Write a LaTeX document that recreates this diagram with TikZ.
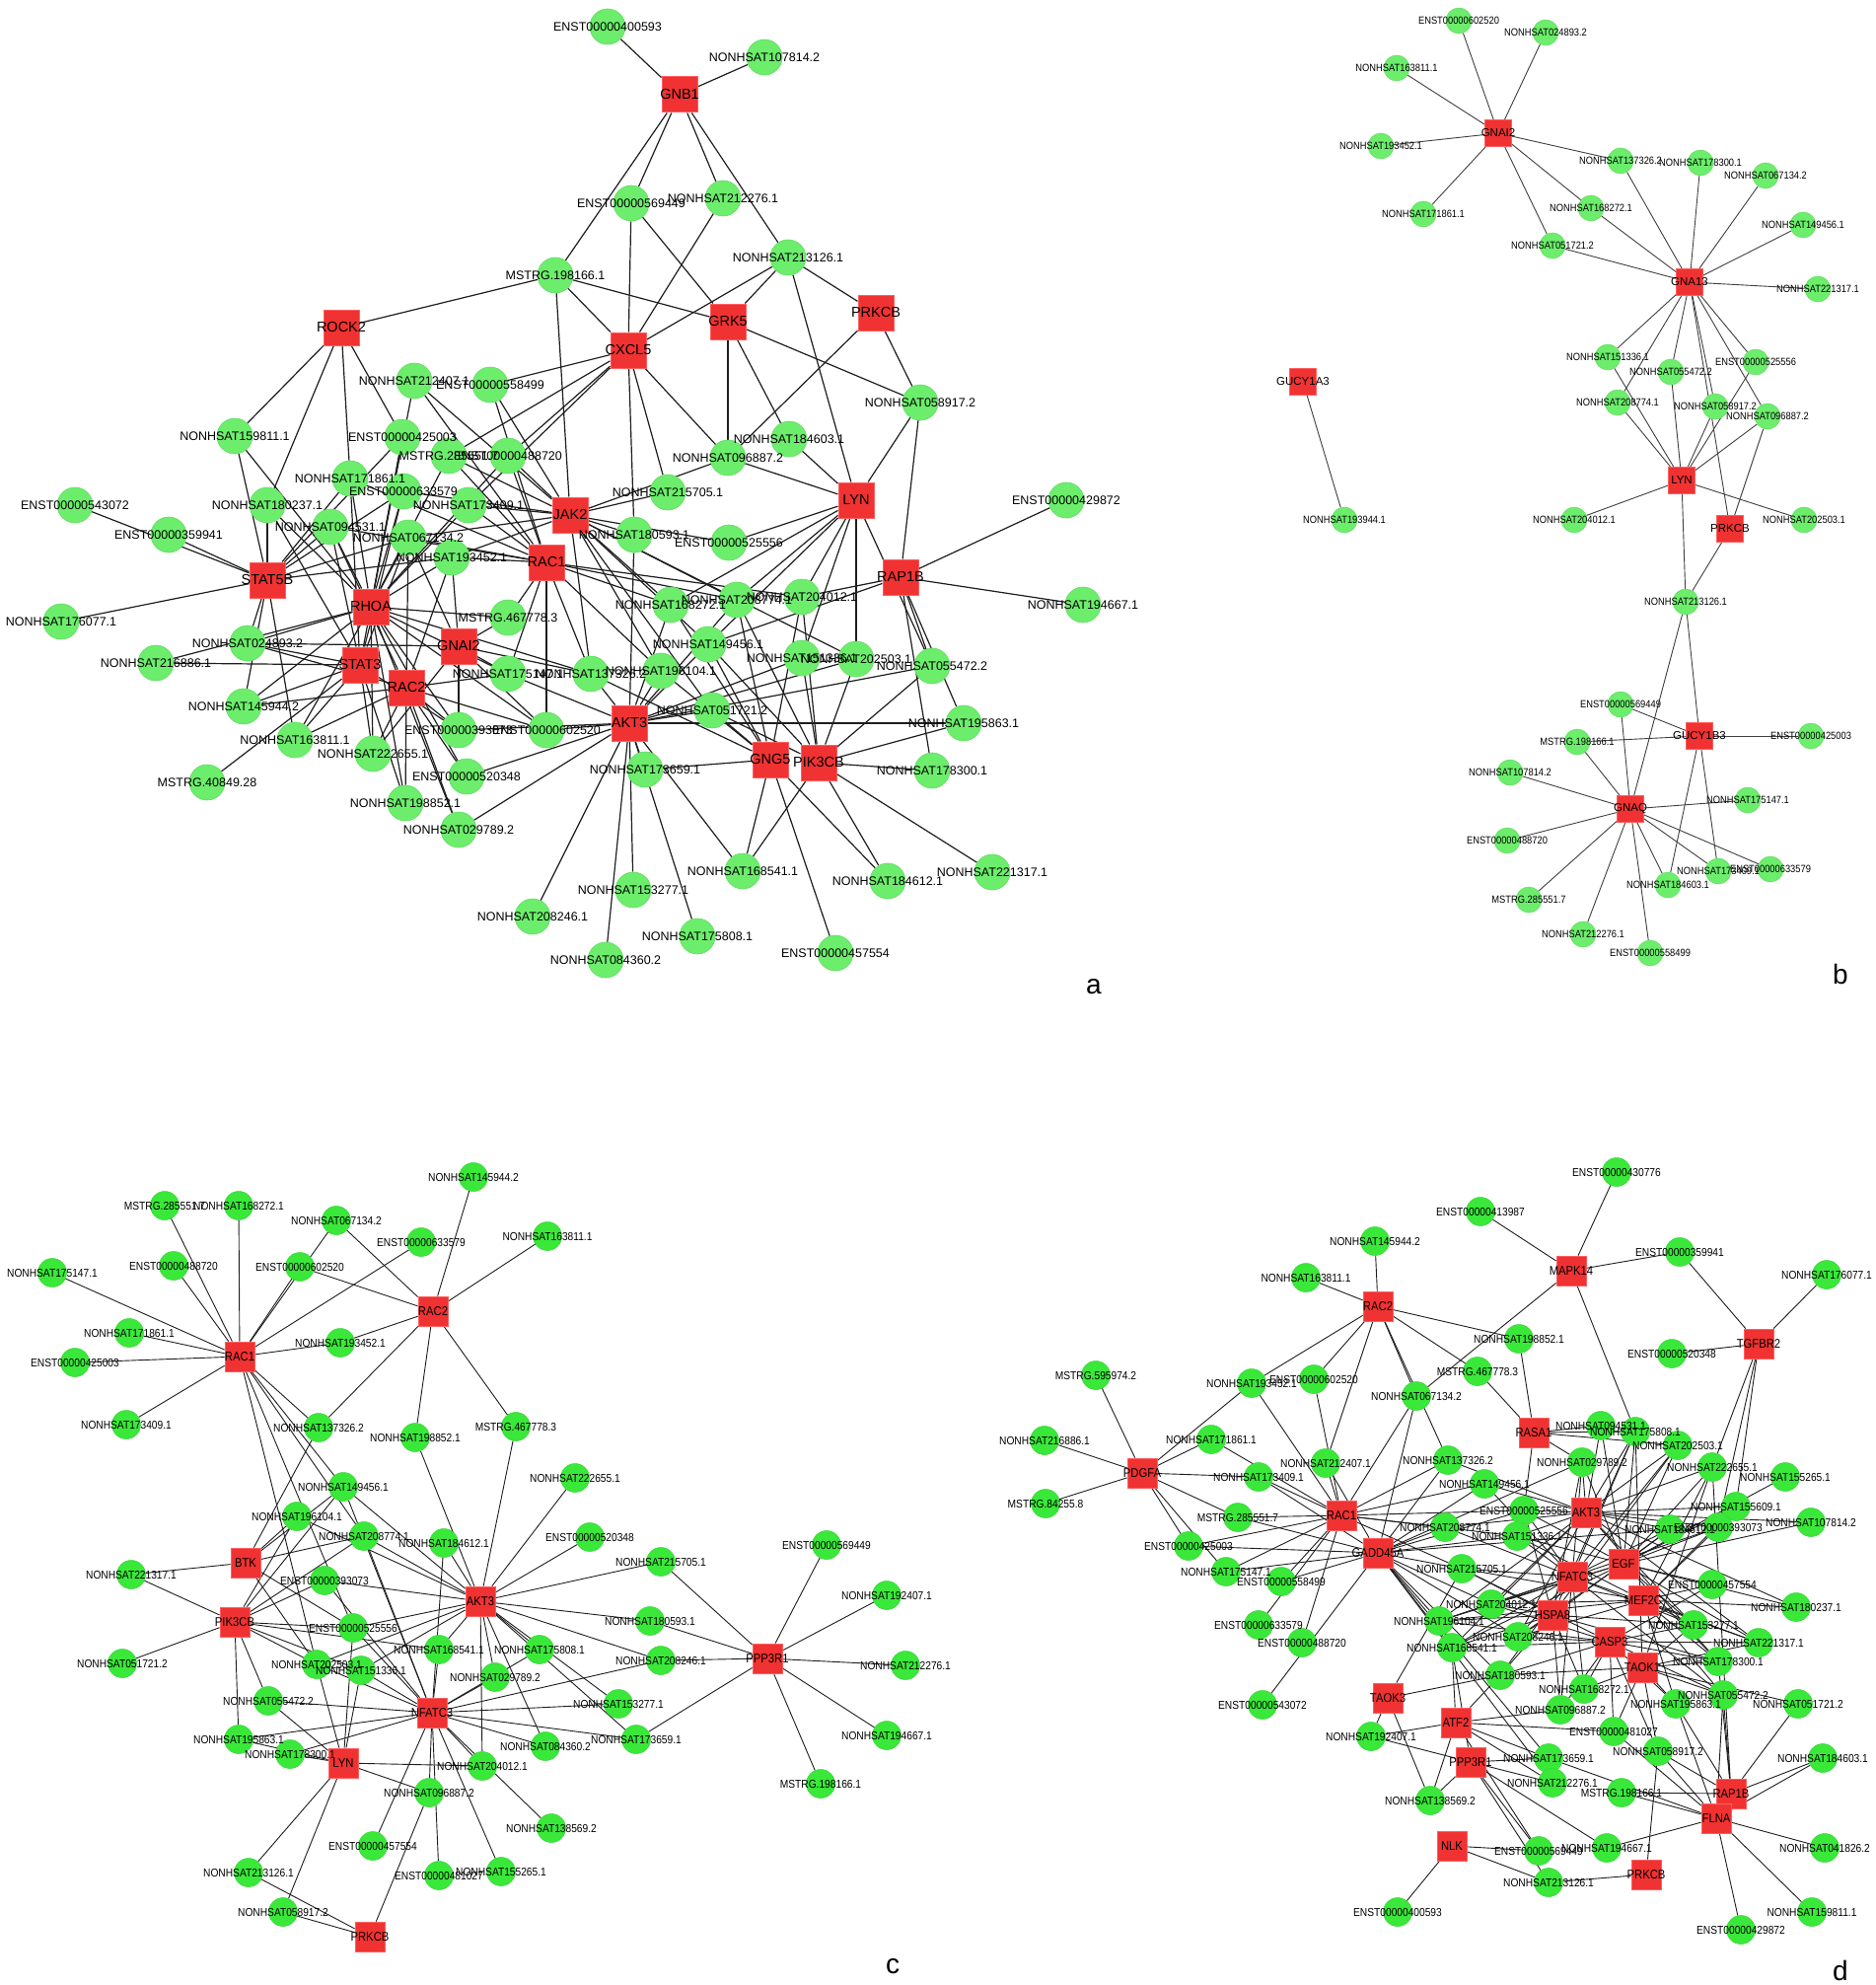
\documentclass[tikz,border=0pt]{standalone}
\usepackage{fontspec}
\setmainfont{Liberation Sans}
\newfontfamily\narrowsf[FakeStretch=0.88]{Liberation Sans}
\usepackage{xcolor}
\definecolor{lncpale}{RGB}{108,238,108}
\definecolor{lncvivid}{RGB}{58,232,58}
\definecolor{genered}{RGB}{240,50,50}
\definecolor{generim}{RGB}{255,95,95}
\definecolor{wire}{RGB}{30,30,30}
\usepackage{tikz}
\pgfdeclarelayer{background}
\pgfsetlayers{background,main}

% shape node (named) now, its centred label queued for the end
\makeatletter
\newcommand{\labelqueue}{}
\newcommand{\nw}[4]{\node[#1] (#2) at (#3) {};%
  \g@addto@macro\labelqueue{\node[#1 text] (#2t) at (#2.center) {#4};}}
\makeatother

\begin{document}
\begin{tikzpicture}[
  x=1pt, y=-1pt,
  lncA/.style={circle, fill=lncpale, draw=lncpale!92!black, line width=0.6pt, minimum size=36pt, inner sep=0pt},
  geneA/.style={rectangle, fill=genered, draw=generim, line width=1pt, minimum size=36pt, inner sep=0pt},
  lncA text/.style={font=\fontsize{12.5}{13}\selectfont, inner sep=0pt},
  geneA text/.style={font=\fontsize{14.5}{15}\selectfont, inner sep=0pt},
  lncB/.style={circle, fill=lncpale, draw=lncpale!92!black, line width=0.5pt, minimum size=26pt, inner sep=0pt},
  geneB/.style={rectangle, fill=genered, draw=generim, line width=0.8pt, minimum size=27pt, inner sep=0pt},
  lncB text/.style={font=\narrowsf\fontsize{10.6}{11}\selectfont, inner sep=0pt},
  geneB text/.style={font=\fontsize{11.5}{12}\selectfont, inner sep=0pt},
  lncC/.style={circle, fill=lncvivid, draw=lncvivid!92!black, line width=0.5pt, minimum size=29pt, inner sep=0pt},
  geneC/.style={rectangle, fill=genered, draw=generim, line width=0.8pt, minimum size=30pt, inner sep=0pt},
  lncC text/.style={font=\narrowsf\fontsize{11.6}{12}\selectfont, inner sep=0pt},
  geneC text/.style={font=\narrowsf\fontsize{12.8}{13}\selectfont, inner sep=0pt},
  edgeA/.style={draw=wire, line width=1.2pt},
  edgeB/.style={draw=wire!85, line width=0.9pt},
  edgeC/.style={draw=wire, line width=0.9pt},
  panel/.style={font=\fontsize{28}{30}\selectfont, inner sep=0pt}
]
\useasboundingbox (0,0) rectangle (1902,2012);
\begin{pgfonlayer}{background}
\fill[white] (0,0) rectangle (1902,2012);
\end{pgfonlayer}

% ---------------- panel a ----------------
\nw{geneA}{aGNB1}{689,96}{GNB1}
\nw{lncA}{aE400593}{616,27}{ENST00000400593}
\nw{lncA}{aN107814}{775,58}{NONHSAT107814.2}
\nw{lncA}{aE569449}{640,206}{ENST00000569449}
\nw{lncA}{aN212276}{733,201}{NONHSAT212276.1}
\nw{lncA}{aN213126}{799,261}{NONHSAT213126.1}
\nw{lncA}{aM198166}{563,279}{MSTRG.198166.1}
\nw{geneA}{aGRK5}{738,326}{GRK5}
\nw{geneA}{aPRKCB}{888,317}{PRKCB}
\nw{geneA}{aCXCL5}{637,355}{CXCL5}
\nw{geneA}{aROCK2}{346,332}{ROCK2}
\nw{lncA}{aN212407}{420,386}{NONHSAT212407.1}
\nw{lncA}{aE558499}{497,390}{ENST00000558499}
\nw{lncA}{aN058917}{933,408}{NONHSAT058917.2}
\nw{lncA}{aN159811}{238,442}{NONHSAT159811.1}
\nw{lncA}{aE425003}{408,443}{ENST00000425003}
\nw{lncA}{aN184603}{800,445}{NONHSAT184603.1}
\nw{lncA}{aM285551}{455,462}{MSTRG.285551.7}
\nw{lncA}{aE488720}{515,462}{ENST00000488720}
\nw{lncA}{aN096887}{738,464}{NONHSAT096887.2}
\nw{lncA}{aN171861}{355,485}{NONHSAT171861.1}
\nw{lncA}{aE633579}{409,498}{ENST00000633579}
\nw{lncA}{aN215705}{677,499}{NONHSAT215705.1}
\nw{geneA}{aLYN}{868,507}{LYN}
\nw{lncA}{aE429872}{1081,507}{ENST00000429872}
\nw{lncA}{aE543072}{76,512}{ENST00000543072}
\nw{lncA}{aN180237}{271,512}{NONHSAT180237.1}
\nw{lncA}{aN173409}{475,512}{NONHSAT173409.1}
\nw{geneA}{aJAK2}{578,522}{JAK2}
\nw{lncA}{aN094531}{335,534}{NONHSAT094531.1}
\nw{lncA}{aE359941}{171,542}{ENST00000359941}
\nw{lncA}{aN180593}{643,542}{NONHSAT180593.1}
\nw{lncA}{aN067134}{414,545}{NONHSAT067134.2}
\nw{lncA}{aE525556}{739,550}{ENST00000525556}
\nw{lncA}{aN193452}{458,565}{NONHSAT193452.1}
\nw{geneA}{aRAC1}{554,570}{RAC1}
\nw{geneA}{aRAP1B}{913,585}{RAP1B}
\nw{geneA}{aSTAT5B}{271,588}{STAT5B}
\nw{lncA}{aN204012}{813,605}{NONHSAT204012.1}
\nw{lncA}{aN208774}{747,608}{NONHSAT208774.1}
\nw{lncA}{aN168272}{680,613}{NONHSAT168272.1}
\nw{lncA}{aN194667}{1098,613}{NONHSAT194667.1}
\nw{geneA}{aRHOA}{376,615}{RHOA}
\nw{lncA}{aM467778}{515,626}{MSTRG.467778.3}
\nw{lncA}{aN176077}{62,630}{NONHSAT176077.1}
\nw{lncA}{aN024893}{251,652}{NONHSAT024893.2}
\nw{lncA}{aN149456}{718,653}{NONHSAT149456.1}
\nw{geneA}{aGNAI2}{465,655}{GNAI2}
\nw{lncA}{aN151336}{813,667}{NONHSAT151336.1}
\nw{lncA}{aN202503}{868,668}{NONHSAT202503.1}
\nw{lncA}{aN216886}{158,672}{NONHSAT216886.1}
\nw{geneA}{aSTAT3}{365,674}{STAT3}
\nw{lncA}{aN055472}{945,675}{NONHSAT055472.2}
\nw{lncA}{aN196104}{670,680}{NONHSAT196104.1}
\nw{lncA}{aN175147}{515,683}{NONHSAT175147.1}
\nw{lncA}{aN137326}{599,683}{NONHSAT137326.2}
\nw{geneA}{aRAC2}{412,697}{RAC2}
\nw{lncA}{aN145944}{247,716}{NONHSAT145944.2}
\nw{lncA}{aN051721}{722,720}{NONHSAT051721.2}
\nw{geneA}{aAKT3}{638,733}{AKT3}
\nw{lncA}{aN195863}{977,733}{NONHSAT195863.1}
\nw{lncA}{aE393073}{465,740}{ENST00000393073}
\nw{lncA}{aE602520}{554,740}{ENST00000602520}
\nw{lncA}{aN163811}{299,750}{NONHSAT163811.1}
\nw{lncA}{aN222655}{378,764}{NONHSAT222655.1}
\nw{geneA}{aGNG5}{781,770}{GNG5}
\nw{geneA}{aPIK3CB}{830,773}{PIK3CB}
\nw{lncA}{aN173659}{654,780}{NONHSAT173659.1}
\nw{lncA}{aN178300}{945,781}{NONHSAT178300.1}
\nw{lncA}{aE520348}{473,787}{ENST00000520348}
\nw{lncA}{aM40849}{210,793}{MSTRG.40849.28}
\nw{lncA}{aN198852}{411,814}{NONHSAT198852.1}
\nw{lncA}{aN029789}{465,841}{NONHSAT029789.2}
\nw{lncA}{aN168541}{753,883}{NONHSAT168541.1}
\nw{lncA}{aN221317}{1006,884}{NONHSAT221317.1}
\nw{lncA}{aN184612}{900,893}{NONHSAT184612.1}
\nw{lncA}{aN153277}{642,902}{NONHSAT153277.1}
\nw{lncA}{aN208246}{540,929}{NONHSAT208246.1}
\nw{lncA}{aN175808}{707,949}{NONHSAT175808.1}
\nw{lncA}{aE457554}{847,966}{ENST00000457554}
\nw{lncA}{aN084360}{614,973}{NONHSAT084360.2}
\node[panel] (labA) at (1109,1000) {a};

% ---------------- panel b ----------------
\nw{lncB}{bE602520}{1479,21}{ENST00000602520}
\nw{lncB}{bN024893}{1567,33}{NONHSAT024893.2}
\nw{lncB}{bN163811}{1416,69}{NONHSAT163811.1}
\nw{geneB}{bGNAI2}{1519,135}{GNAI2}
\nw{lncB}{bN193452}{1400,148}{NONHSAT193452.1}
\nw{lncB}{bN171861}{1443,217}{NONHSAT171861.1}
\nw{lncB}{bN137326}{1643,163}{NONHSAT137326.2}
\nw{lncB}{bN178300}{1724,165}{NONHSAT178300.1}
\nw{lncB}{bN067134}{1790,178}{NONHSAT067134.2}
\nw{lncB}{bN168272}{1613,211}{NONHSAT168272.1}
\nw{lncB}{bN149456}{1828,228}{NONHSAT149456.1}
\nw{lncB}{bN051721}{1574,249}{NONHSAT051721.2}
\nw{geneB}{bGNA13}{1713,286}{GNA13}
\nw{lncB}{bN221317}{1843,293}{NONHSAT221317.1}
\nw{geneB}{bGUCY1A3}{1321,387}{GUCY1A3}
\nw{lncB}{bN151336}{1630,362}{NONHSAT151336.1}
\nw{lncB}{bE525556}{1780,367}{ENST00000525556}
\nw{lncB}{bN055472}{1694,377}{NONHSAT055472.2}
\nw{lncB}{bN208774}{1640,408}{NONHSAT208774.1}
\nw{lncB}{bN058917}{1739,412}{NONHSAT058917.2}
\nw{lncB}{bN096887}{1792,422}{NONHSAT096887.2}
\nw{geneB}{bLYN}{1705,487}{LYN}
\nw{lncB}{bN193944}{1363,527}{NONHSAT193944.1}
\nw{lncB}{bN204012}{1596,527}{NONHSAT204012.1}
\nw{geneB}{bPRKCB}{1754,536}{PRKCB}
\nw{lncB}{bN202503}{1829,527}{NONHSAT202503.1}
\nw{lncB}{bN213126}{1709,610}{NONHSAT213126.1}
\nw{lncB}{bE569449}{1643,714}{ENST00000569449}
\nw{geneB}{bGUCY1B3}{1723,746}{GUCY1B3}
\nw{lncB}{bE425003}{1836,746}{ENST00000425003}
\nw{lncB}{bM198166}{1599,752}{MSTRG.198166.1}
\nw{lncB}{bN107814}{1531,783}{NONHSAT107814.2}
\nw{geneB}{bGNAQ}{1653,820}{GNAQ}
\nw{lncB}{bN175147}{1772,811}{NONHSAT175147.1}
\nw{lncB}{bE488720}{1528,852}{ENST00000488720}
\nw{lncB}{bN173409}{1742,883}{NONHSAT173409.1}
\nw{lncB}{bE633579}{1795,881}{ENST00000633579}
\nw{lncB}{bN184603}{1691,897}{NONHSAT184603.1}
\nw{lncB}{bM285551}{1550,912}{MSTRG.285551.7}
\nw{lncB}{bN212276}{1605,947}{NONHSAT212276.1}
\nw{lncB}{bE558499}{1673,966}{ENST00000558499}
\node[panel] (labB) at (1866,987) {b};

% ---------------- panel c ----------------
\nw{lncC}{cN145944}{480,1193}{NONHSAT145944.2}
\nw{lncC}{cM285551}{167,1222}{MSTRG.285551.7}
\nw{lncC}{cN168272}{242,1222}{NONHSAT168272.1}
\nw{lncC}{cN067134}{341,1237}{NONHSAT067134.2}
\nw{lncC}{cE633579}{427,1259}{ENST00000633579}
\nw{lncC}{cN163811}{555,1253}{NONHSAT163811.1}
\nw{lncC}{cN175147}{53,1290}{NONHSAT175147.1}
\nw{lncC}{cE488720}{176,1283}{ENST00000488720}
\nw{lncC}{cE602520}{304,1284}{ENST00000602520}
\nw{geneC}{cRAC2}{439,1329}{RAC2}
\nw{lncC}{cN171861}{131,1351}{NONHSAT171861.1}
\nw{geneC}{cRAC1}{243,1375}{RAC1}
\nw{lncC}{cN193452}{345,1361}{NONHSAT193452.1}
\nw{lncC}{cE425003}{76,1381}{ENST00000425003}
\nw{lncC}{cN173409}{128,1444}{NONHSAT173409.1}
\nw{lncC}{cN137326}{323,1447}{NONHSAT137326.2}
\nw{lncC}{cN198852}{421,1457}{NONHSAT198852.1}
\nw{lncC}{cM467778}{523,1446}{MSTRG.467778.3}
\nw{lncC}{cN222655}{583,1498}{NONHSAT222655.1}
\nw{lncC}{cN149456}{348,1507}{NONHSAT149456.1}
\nw{lncC}{cN196104}{301,1537}{NONHSAT196104.1}
\nw{lncC}{cN208774}{369,1557}{NONHSAT208774.1}
\nw{lncC}{cN184612}{450,1564}{NONHSAT184612.1}
\nw{lncC}{cE520348}{598,1558}{ENST00000520348}
\nw{lncC}{cE569449}{838,1566}{ENST00000569449}
\nw{lncC}{cN215705}{670,1583}{NONHSAT215705.1}
\nw{geneC}{cBTK}{249,1584}{BTK}
\nw{lncC}{cN221317}{133,1596}{NONHSAT221317.1}
\nw{lncC}{cE393073}{329,1602}{ENST00000393073}
\nw{lncC}{cN192407}{899,1617}{NONHSAT192407.1}
\nw{geneC}{cAKT3}{487,1623}{AKT3}
\nw{geneC}{cPIK3CB}{238,1644}{PIK3CB}
\nw{lncC}{cE525556}{358,1650}{ENST00000525556}
\nw{lncC}{cN180593}{659,1643}{NONHSAT180593.1}
\nw{lncC}{cN168541}{445,1672}{NONHSAT168541.1}
\nw{lncC}{cN175808}{547,1672}{NONHSAT175808.1}
\nw{lncC}{cN208246}{670,1683}{NONHSAT208246.1}
\nw{geneC}{cPPP3R1}{778,1681}{PPP3R1}
\nw{lncC}{cN212276}{918,1688}{NONHSAT212276.1}
\nw{lncC}{cN051721}{124,1686}{NONHSAT051721.2}
\nw{lncC}{cN202503}{321,1687}{NONHSAT202503.1}
\nw{lncC}{cN151336}{366,1693}{NONHSAT151336.1}
\nw{lncC}{cN029789}{502,1700}{NONHSAT029789.2}
\nw{lncC}{cN055472}{272,1724}{NONHSAT055472.2}
\nw{geneC}{cNFATC3}{438,1736}{NFATC3}
\nw{lncC}{cN153277}{627,1727}{NONHSAT153277.1}
\nw{lncC}{cN195863}{242,1763}{NONHSAT195863.1}
\nw{lncC}{cN173659}{645,1763}{NONHSAT173659.1}
\nw{lncC}{cN084360}{553,1770}{NONHSAT084360.2}
\nw{lncC}{cN194667}{899,1759}{NONHSAT194667.1}
\nw{lncC}{cN178300}{294,1778}{NONHSAT178300.1}
\nw{geneC}{cLYN}{348,1787}{LYN}
\nw{lncC}{cN204012}{489,1790}{NONHSAT204012.1}
\nw{lncC}{cM198166}{832,1808}{MSTRG.198166.1}
\nw{lncC}{cN096887}{435,1817}{NONHSAT096887.2}
\nw{lncC}{cN138569}{559,1853}{NONHSAT138569.2}
\nw{lncC}{cE457554}{378,1871}{ENST00000457554}
\nw{lncC}{cN213126}{252,1898}{NONHSAT213126.1}
\nw{lncC}{cE481027}{445,1901}{ENST00000481027}
\nw{lncC}{cN155265}{508,1897}{NONHSAT155265.1}
\nw{lncC}{cN058917}{287,1938}{NONHSAT058917.2}
\nw{geneC}{cPRKCB}{375,1963}{PRKCB}
\node[panel] (labC) at (905,1993) {c};

% ---------------- panel d ----------------
\nw{lncC}{dE430776}{1639,1188}{ENST00000430776}
\nw{lncC}{dE413987}{1501,1228}{ENST00000413987}
\nw{lncC}{dN145944}{1394,1258}{NONHSAT145944.2}
\nw{lncC}{dE359941}{1703,1269}{ENST00000359941}
\nw{geneC}{dMAPK14}{1593,1288}{MAPK14}
\nw{lncC}{dN163811}{1324,1295}{NONHSAT163811.1}
\nw{lncC}{dN176077}{1852,1292}{NONHSAT176077.1}
\nw{geneC}{dRAC2}{1397,1324}{RAC2}
\nw{lncC}{dN198852}{1540,1357}{NONHSAT198852.1}
\nw{geneC}{dTGFBR2}{1783,1362}{TGFBR2}
\nw{lncC}{dE520348}{1695,1372}{ENST00000520348}
\nw{lncC}{dM595974}{1111,1394}{MSTRG.595974.2}
\nw{lncC}{dM467778}{1498,1390}{MSTRG.467778.3}
\nw{lncC}{dN193452}{1269,1402}{NONHSAT193452.1}
\nw{lncC}{dE602520}{1332,1398}{ENST00000602520}
\nw{lncC}{dN067134}{1436,1415}{NONHSAT067134.2}
\nw{geneC}{dRASA1}{1555,1452}{RASA1}
\nw{lncC}{dN094531}{1623,1445}{NONHSAT094531.1}
\nw{lncC}{dN175808}{1658,1451}{NONHSAT175808.1}
\nw{lncC}{dN202503}{1701,1465}{NONHSAT202503.1}
\nw{lncC}{dN216886}{1059,1460}{NONHSAT216886.1}
\nw{lncC}{dN171861}{1228,1459}{NONHSAT171861.1}
\nw{geneC}{dPDGFA}{1158,1493}{PDGFA}
\nw{lncC}{dN212407}{1344,1483}{NONHSAT212407.1}
\nw{lncC}{dN137326}{1468,1480}{NONHSAT137326.2}
\nw{lncC}{dN029789}{1604,1482}{NONHSAT029789.2}
\nw{lncC}{dN222655}{1736,1487}{NONHSAT222655.1}
\nw{lncC}{dN155265}{1810,1497}{NONHSAT155265.1}
\nw{lncC}{dN173409}{1276,1497}{NONHSAT173409.1}
\nw{lncC}{dN149456}{1505,1504}{NONHSAT149456.1}
\nw{lncC}{dM84255}{1060,1524}{MSTRG.84255.8}
\nw{lncC}{dE525556}{1545,1531}{ENST00000525556}
\nw{geneC}{dAKT3}{1608,1533}{AKT3}
\nw{lncC}{dN155609}{1760,1527}{NONHSAT155609.1}
\nw{lncC}{dN107814}{1836,1543}{NONHSAT107814.2}
\nw{geneC}{dRAC1}{1360,1536}{RAC1}
\nw{lncC}{dM285551}{1255,1538}{MSTRG.285551.7}
\nw{lncC}{dN208774}{1465,1548}{NONHSAT208774.1}
\nw{lncC}{dN151336}{1538,1557}{NONHSAT151336.1}
\nw{lncC}{dN184612}{1693,1550}{NONHSAT184612.1}
\nw{lncC}{dE393073}{1742,1548}{ENST00000393073}
\nw{lncC}{dE425003}{1205,1567}{ENST00000425003}
\nw{geneC}{dGADD45A}{1397,1574}{GADD45A}
\nw{geneC}{dEGF}{1646,1585}{EGF}
\nw{lncC}{dN175147}{1243,1593}{NONHSAT175147.1}
\nw{lncC}{dN215705}{1482,1590}{NONHSAT215705.1}
\nw{geneC}{dNFATC3}{1594,1598}{NFATC3}
\nw{lncC}{dE558499}{1299,1603}{ENST00000558499}
\nw{lncC}{dE457554}{1736,1606}{ENST00000457554}
\nw{geneC}{dMEF2C}{1666,1622}{MEF2C}
\nw{lncC}{dN180237}{1821,1629}{NONHSAT180237.1}
\nw{lncC}{dN204012}{1512,1626}{NONHSAT204012.1}
\nw{geneC}{dHSPA8}{1574,1637}{HSPA8}
\nw{lncC}{dN196104}{1459,1643}{NONHSAT196104.1}
\nw{lncC}{dE633579}{1276,1647}{ENST00000633579}
\nw{lncC}{dN153277}{1717,1647}{NONHSAT153277.1}
\nw{lncC}{dN208246}{1539,1659}{NONHSAT208246.1}
\nw{geneC}{dCASP3}{1632,1664}{CASP3}
\nw{lncC}{dE488720}{1320,1665}{ENST00000488720}
\nw{lncC}{dN221317}{1783,1665}{NONHSAT221317.1}
\nw{lncC}{dN168541}{1472,1670}{NONHSAT168541.1}
\nw{geneC}{dTAOK1}{1665,1690}{TAOK1}
\nw{lncC}{dN178300}{1742,1684}{NONHSAT178300.1}
\nw{lncC}{dN180593}{1521,1698}{NONHSAT180593.1}
\nw{lncC}{dN168272}{1606,1712}{NONHSAT168272.1}
\nw{lncC}{dN055472}{1747,1718}{NONHSAT055472.2}
\nw{lncC}{dN051721}{1823,1727}{NONHSAT051721.2}
\nw{geneC}{dTAOK3}{1407,1721}{TAOK3}
\nw{lncC}{dE543072}{1280,1728}{ENST00000543072}
\nw{lncC}{dN096887}{1582,1733}{NONHSAT096887.2}
\nw{lncC}{dN195863}{1699,1727}{NONHSAT195863.1}
\nw{geneC}{dATF2}{1476,1746}{ATF2}
\nw{lncC}{dE481027}{1636,1755}{ENST00000481027}
\nw{lncC}{dN192407}{1390,1760}{NONHSAT192407.1}
\nw{lncC}{dN058917}{1681,1775}{NONHSAT058917.2}
\nw{lncC}{dN173659}{1570,1782}{NONHSAT173659.1}
\nw{geneC}{dPPP3R1}{1491,1786}{PPP3R1}
\nw{lncC}{dN184603}{1848,1782}{NONHSAT184603.1}
\nw{lncC}{dN212276}{1574,1807}{NONHSAT212276.1}
\nw{lncC}{dM198166}{1644,1817}{MSTRG.198166.1}
\nw{geneC}{dRAP1B}{1755,1818}{RAP1B}
\nw{lncC}{dN138569}{1450,1825}{NONHSAT138569.2}
\nw{geneC}{dFLNA}{1740,1843}{FLNA}
\nw{geneC}{dNLK}{1472,1871}{NLK}
\nw{lncC}{dE569449}{1560,1876}{ENST00000569449}
\nw{lncC}{dN194667}{1629,1873}{NONHSAT194667.1}
\nw{lncC}{dN041826}{1850,1873}{NONHSAT041826.2}
\nw{geneC}{dPRKCB}{1669,1900}{PRKCB}
\nw{lncC}{dN213126}{1570,1908}{NONHSAT213126.1}
\nw{lncC}{dE400593}{1417,1938}{ENST00000400593}
\nw{lncC}{dN159811}{1837,1938}{NONHSAT159811.1}
\nw{lncC}{dE429872}{1765,1956}{ENST00000429872}
\node[panel] (labD) at (1866,1997) {d};

% all labels on top of all nodes
\labelqueue

% ---------------- connectors ----------------
\begin{pgfonlayer}{background}
\foreach \hub/\nbrs in {
  aGNB1/{aE400593,aN107814,aE569449,aN212276,aN213126,aM198166},
  aROCK2/{aM198166,aN159811,aN180237,aN171861,aE425003},
  aCXCL5/{aM198166,aE569449,aN212276,aN213126,aE558499,aE488720,aN173409,aN096887,aN215705,aN180593,aM285551},
  aGRK5/{aM198166,aE569449,aN213126,aN096887,aN184603,aN058917},
  aPRKCB/{aN213126,aN058917,aN096887},
  aLYN/{aN213126,aN184603,aN096887,aN058917,aE525556,aN204012,aN151336,aN202503,aN208774,aN149456,aN055472,aN168272},
  aRAP1B/{aE429872,aN194667,aN204012,aN055472,aN195863,aN178300,aN058917,aN149456},
  aJAK2/{aM198166,aN215705,aN096887,aN180593,aE525556,aN173409,aN212407,aE558499,aE488720,aM285551,aN193452,aN067134,aE633579,aN168272,aN208774,aN149456,aN137326,aN196104,aN051721,aN202503},
  aRAC1/{aN173409,aN193452,aN067134,aM285551,aE488720,aE558499,aN212407,aM467778,aN175147,aN137326,aN196104,aN168272,aN208774,aN204012,aE602520,aN094531,aN171861},
  aAKT3/{aN208246,aN084360,aN153277,aN175808,aN173659,aN168541,aN137326,aN196104,aN051721,aN149456,aN168272,aN208774,aN180593,aE602520,aE393073,aN202503,aN055472,aN175147,aE520348,aN029789,aN151336,aN195863},
  aGNG5/{aN168541,aE457554,aN184612,aN149456,aN208774,aN196104,aN051721,aN173659,aN168272,aN137326,aN204012},
  aPIK3CB/{aN055472,aN195863,aN178300,aN184612,aN221317,aN168541,aN202503,aN151336,aN204012,aN149456,aN208774,aN051721},
  aRHOA/{aN159811,aN180237,aN171861,aE633579,aN094531,aN067134,aN193452,aE425003,aM285551,aN173409,aN024893,aN145944,aN163811,aN216886,aM467778,aN175147,aE393073,aN222655,aE520348,aN198852,aN029789,aE602520,aN137326,aE488720,aN212407},
  aSTAT5B/{aE543072,aE359941,aN176077,aN159811,aN180237,aN171861,aN094531,aE633579,aN067134,aN024893,aN145944,aN163811,aE425003,aN193452},
  aSTAT3/{aN024893,aN145944,aN163811,aN216886,aN222655,aN198852,aE393073,aN180237,aN094531,aN171861,aE425003,aM40849,aE633579,aN067134},
  aRAC2/{aN145944,aN163811,aN222655,aN198852,aN029789,aE520348,aE393073,aE602520,aN175147,aN024893,aN193452,aN067134,aN094531},
  aGNAI2/{aM467778,aN175147,aN137326,aE602520,aE393073,aN193452,aN024893,aN067134,aN222655}}{\foreach \nb in \nbrs {\draw[edgeA] (\hub) -- (\nb);}}
\foreach \hub/\nbrs in {
  bGNAI2/{bE602520,bN024893,bN163811,bN193452,bN171861,bN137326,bN168272,bN051721},
  bGNA13/{bN137326,bN178300,bN067134,bN149456,bN168272,bN051721,bN221317,bN151336,bN208774,bN055472,bN058917,bE525556,bN096887,bPRKCB},
  bLYN/{bN151336,bN208774,bN055472,bN058917,bN096887,bE525556,bN204012,bN202503,bN213126},
  bPRKCB/{bN213126,bN096887},
  bGUCY1A3/{bN193944},
  bGUCY1B3/{bN213126,bE569449,bM198166,bE425003,bN184603,bN173409},
  bGNAQ/{bN213126,bE569449,bM198166,bN107814,bN175147,bE488720,bM285551,bN212276,bE558499,bN184603,bN173409,bE633579}}{\foreach \nb in \nbrs {\draw[edgeB] (\hub) -- (\nb);}}
\foreach \hub/\nbrs in {
  cRAC1/{cM285551,cN168272,cN067134,cE633579,cE602520,cE488720,cN175147,cN171861,cE425003,cN193452,cN173409,cN137326,cN149456,cN208774,cE525556,cN202503},
  cRAC2/{cN145944,cN067134,cE602520,cN163811,cN193452,cN137326,cN198852,cM467778},
  cAKT3/{cN198852,cM467778,cN222655,cE520348,cN215705,cN180593,cN208246,cN184612,cN208774,cN149456,cE393073,cE525556,cN168541,cN175808,cN029789,cN153277,cN084360,cN204012,cN202503,cN173659,cN151336,cN196104},
  cPPP3R1/{cE569449,cN192407,cN212276,cN194667,cM198166,cN215705,cN180593,cN208246,cN173659},
  cNFATC3/{cN055472,cN195863,cN178300,cN153277,cN173659,cN084360,cN204012,cN096887,cE457554,cE481027,cN155265,cN138569,cN208246,cN029789,cN168541,cN175808,cN151336,cE525556,cN149456,cN208774,cN184612,cE393073,cN202503},
  cPIK3CB/{cN221317,cN051721,cE393073,cN196104,cN149456,cN208774,cE525556,cN202503,cN151336,cN055472,cN195863,cN168541},
  cBTK/{cN221317,cN196104,cN208774,cN202503,cE525556,cN137326,cN149456},
  cLYN/{cN178300,cN055472,cN204012,cN096887,cN213126,cN058917,cN151336,cN202503,cE525556,cN195863},
  cPRKCB/{cN213126,cN058917,cN096887}}{\foreach \nb in \nbrs {\draw[edgeC] (\hub) -- (\nb);}}
\foreach \hub/\nbrs in {
  dMAPK14/{dE413987,dE430776,dE359941,dN067134,dN175808},
  dTGFBR2/{dE359941,dN176077,dE520348,dN155609,dN222655,dE393073},
  dRAC2/{dN145944,dN163811,dN198852,dM467778,dN067134,dN193452,dE602520,dN137326,dN212407},
  dRASA1/{dM467778,dN094531,dN175808,dN202503,dN029789,dN198852,dE525556},
  dPDGFA/{dM595974,dN216886,dN171861,dM84255,dN173409,dE425003,dN175147,dN193452,dM285551},
  dRAC1/{dN193452,dE602520,dN171861,dN173409,dM285551,dE425003,dN175147,dE558499,dE633579,dE488720,dN212407,dN137326,dN149456,dN208774,dN067134,dN151336,dN215705,dE525556},
  dGADD45A/{dN212407,dN067134,dN149456,dN208774,dN151336,dE525556,dN215705,dN204012,dN196104,dN168541,dN180593,dN208246,dE543072,dN137326,dN175147,dE558499,dM285551,dN173409,dE425003,dN029789,dN184612,dN173659,dN212276},
  dAKT3/{dN175808,dN094531,dN202503,dN029789,dN222655,dN155609,dN184612,dE393073,dN149456,dE525556,dN151336,dN208774,dN137326,dN204012,dN196104,dN168541,dN208246,dN153277,dN221317,dN178300,dN107814,dN180237},
  dEGF/{dN175808,dN202503,dN222655,dN155265,dN155609,dN107814,dE393073,dN184612,dE457554,dN180237,dN153277,dN221317,dN178300,dN204012,dN196104,dN168541,dN208246,dN151336,dE525556,dN029789,dN094531},
  dNFATC3/{dN175808,dN202503,dN029789,dN149456,dE525556,dN151336,dN208774,dN215705,dN204012,dN196104,dN208246,dN168541,dN180593,dN168272,dN096887,dN184612,dE393073,dN153277,dN221317,dN055472},
  dMEF2C/{dN222655,dN155609,dE393073,dE457554,dN180237,dN153277,dN221317,dN178300,dN055472,dN195863,dN204012,dN196104,dN208246,dN215705,dN151336},
  dHSPA8/{dN175808,dN029789,dN202503,dN204012,dN196104,dN208246,dN168541,dN180593,dN168272,dN096887,dN215705,dE525556,dN184612,dN153277,dN178300},
  dCASP3/{dN204012,dN196104,dN208246,dN168541,dN180593,dN168272,dN096887,dE481027,dN153277,dN221317,dN178300,dN055472,dN195863,dN058917,dE457554,dN215705},
  dTAOK1/{dN153277,dN221317,dN178300,dN055472,dN195863,dN051721,dN058917,dE481027,dN168272,dN222655,dN175808,dN180593},
  dTAOK3/{dN192407,dN180593,dN215705,dN138569},
  dATF2/{dN192407,dN168541,dN180593,dN173659,dN212276,dN096887,dE481027,dN138569,dE569449},
  dPPP3R1/{dN192407,dN173659,dN212276,dE569449,dN213126,dN194667,dN138569,dN168541},
  dNLK/{dE400593,dE569449,dN213126},
  dPRKCB/{dN213126,dN058917},
  dRAP1B/{dN184603,dN058917,dN055472,dN051721,dN178300,dM198166,dN195863,dN222655},
  dFLNA/{dN184603,dN041826,dN159811,dE429872,dN194667,dM198166,dN058917,dN055472,dN195863,dE481027,dN173659}}{\foreach \nb in \nbrs {\draw[edgeC] (\hub) -- (\nb);}}
\end{pgfonlayer}
\end{tikzpicture}
\end{document}
